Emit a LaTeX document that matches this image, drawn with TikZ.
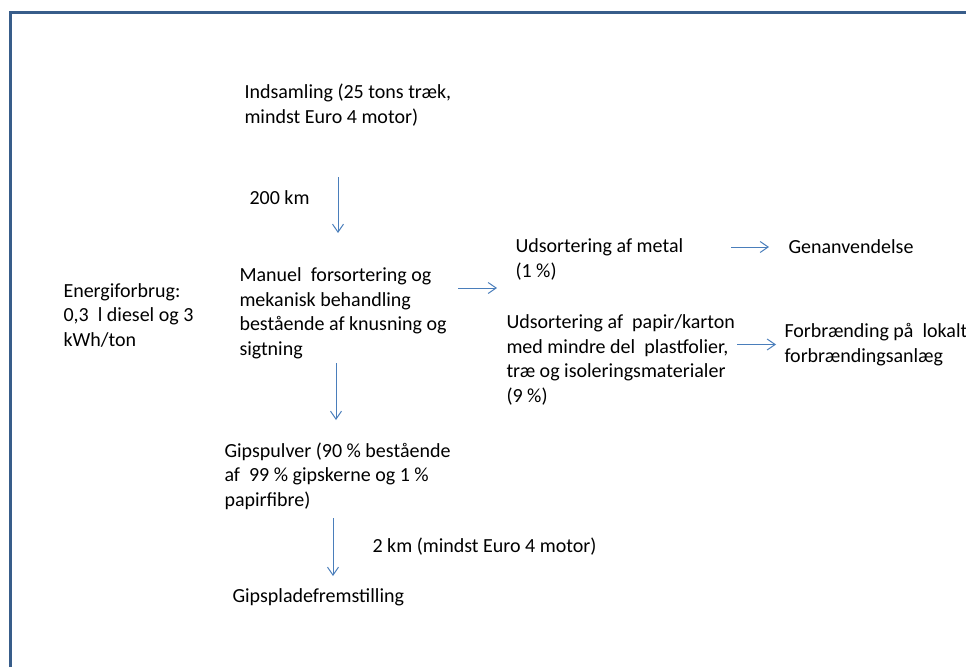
\documentclass[tikz,border=0pt]{standalone}
\usepackage{fontspec}
\setmainfont{Carlito}
\usetikzlibrary{arrows.meta}
\definecolor{cframe}{HTML}{385D8A}
\definecolor{carrow}{HTML}{4A7EBB}
\tikzset{
  every picture/.style={line width=1pt},
  txt/.style={anchor=west, align=left, inner sep=0pt, font=\fontsize{20pt}{24.5pt}\selectfont},
  arrow/.style={-{Straight Barb[length=8pt, width=11pt]}, draw=carrow, line width=1pt},
  frame/.style={draw=cframe, line width=3pt},
}
\begin{document}
\begin{tikzpicture}[x=1pt, y=-1pt]
  \useasboundingbox (0,0) rectangle (966,667);
  % ---- frame (left and top edge only) ----
  \draw[frame] (10.5,667) |- (966,12.5);
  % ---- main chain ----
  \node[txt] (ind) at (244,105) {Indsamling (25 tons træk,\\mindst Euro 4 motor)};
  \node[txt] (km200) at (249,198) {200 km};
  \node[txt] (man) at (239,313.5) {Manuel\ \ forsortering og\\mekanisk behandling\\bestående af knusning og\\sigtning};
  \node[txt] (energi) at (63,315) {Energiforbrug:\\0,3\ \ l diesel og 3\\kWh/ton};
  \node[txt] (gips) at (224,476) {Gipspulver (90 \% bestående\\af\ \ 99 \% gipskerne og 1 \%\\papirfibre)};
  \node[txt] (km2) at (372,547) {2 km (mindst Euro 4 motor)};
  \node[txt] (plade) at (232,597) {Gipspladefremstilling};
  % ---- sorting branches ----
  \node[txt] (metal) at (515,259.5) {Udsortering af metal\\(1 \%)};
  \node[txt] (gen) at (788,247) {Genanvendelse};
  \node[txt] (papir) at (506,360) {Udsortering af\ \ papir/karton\\med mindre del\ \ plastfolier,\\træ og isoleringsmaterialer\\(9 \%)};
  \node[txt] (forb) at (784,344.5) {Forbrænding på\ \ lokalt\\forbrændingsanlæg};
  % ---- arrows ----
  \draw[arrow] ([xshift=94pt, yshift=-72pt]ind.west) -- ++(0,56);
  \draw[arrow] ([xshift=97pt, yshift=-49.5pt]man.west) -- ++(0,57);
  \draw[arrow] ([xshift=109pt, yshift=-42pt]gips.west) -- ++(0,58);
  \draw[arrow] ([xshift=-57pt, yshift=-28.5pt]metal.west) -- ++(39,0);
  \draw[arrow] ([xshift=-57pt]gen.west) -- ([xshift=-19pt]gen.west);
  \draw[arrow] ([xshift=-47pt]forb.west) -- ([xshift=-8pt]forb.west);
\end{tikzpicture}
\end{document}
